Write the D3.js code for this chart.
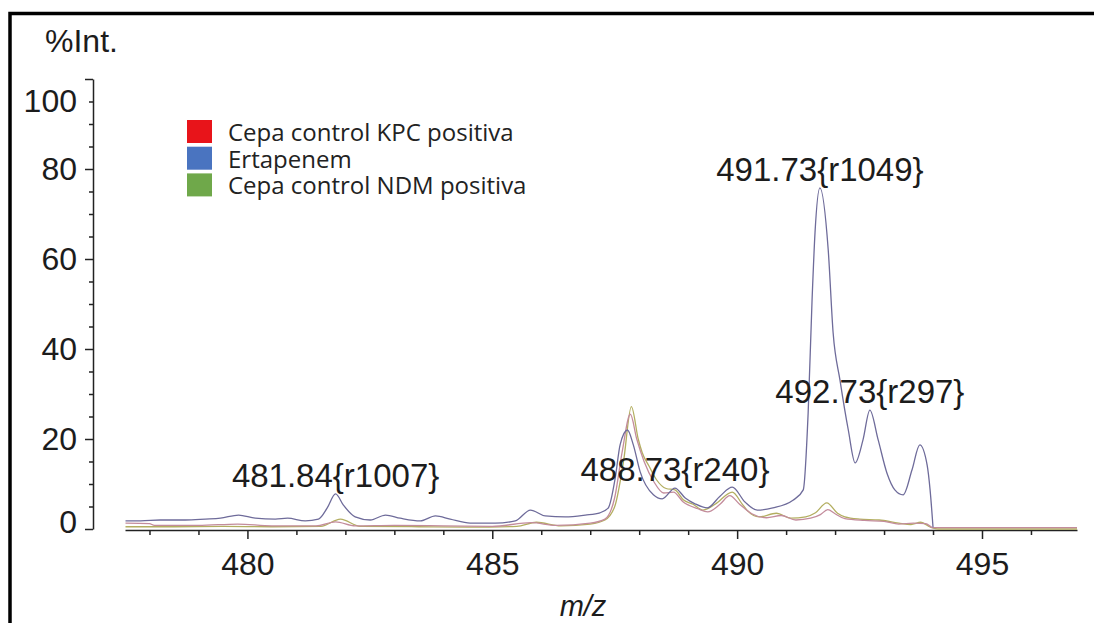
<!DOCTYPE html>
<html>
<head>
<meta charset="utf-8">
<script src="https://cdn.jsdelivr.net/npm/d3@7"></script>
<style>
  html, body { margin: 0; background: #fff; overflow: hidden; }
  svg { display: block; overflow: hidden; }
  .axis text { font-family: "Liberation Sans", Arial, sans-serif; font-size: 32px; fill: #1c1c1c; }
  .axis path, .axis line { stroke: #222; stroke-width: 1.5; }
  .peak { font-family: "Liberation Sans", Arial, sans-serif; font-size: 33px; fill: #1c1c1c; }
  .legend text { font-family: "Open Sans", sans-serif; font-size: 24px; fill: #222; }
</style>
</head>
<body>
<script>
'use strict'

// spectra: [m/z, %Int.]
var ertapenem = [
  [477.51, 1.8], [477.82, 1.8], [478.22, 2.0], [478.73, 2.0], [479.14, 2.2], [479.45, 2.4],
  [479.82, 3.1], [480.16, 2.4], [480.57, 2.2], [480.82, 2.4], [481.18, 1.8], [481.45, 2.2],
  [481.63, 4.7], [481.80, 7.8], [481.96, 5.3], [482.20, 2.7], [482.51, 2.0], [482.82, 3.1],
  [483.12, 2.4], [483.53, 1.8], [483.84, 2.9], [484.14, 2.2], [484.55, 1.3], [485.06, 1.3],
  [485.47, 1.8], [485.78, 4.2], [486.08, 2.9], [486.49, 2.7], [486.90, 3.1], [487.20, 3.6],
  [487.37, 4.7], [487.51, 11.3], [487.61, 18.7], [487.76, 22.0], [487.88, 18.7], [488.02, 12.7],
  [488.29, 7.6], [488.47, 6.7], [488.73, 9.1], [488.94, 6.9], [489.14, 5.6], [489.39, 4.7],
  [489.65, 7.3], [489.90, 9.3], [490.16, 6.0], [490.41, 4.2], [490.73, 4.7], [491.14, 6.4],
  [491.35, 8.7], [491.45, 25.8], [491.53, 50.9], [491.59, 65.8], [491.69, 75.8], [491.86, 62.0],
  [491.96, 43.6], [492.10, 33.1], [492.27, 22.0], [492.41, 14.7], [492.57, 19.8], [492.71, 26.4],
  [492.88, 19.8], [493.06, 12.4], [493.22, 8.7], [493.39, 7.6], [493.57, 13.1], [493.73, 18.7],
  [493.88, 14.2], [493.94, 8.7], [494.00, 0.4]
]

var kpc = [
  [477.51, 1.3], [478.0, 1.2], [478.1, 0.8], [479.0, 0.8], [479.8, 1.1], [480.5, 0.7],
  [481.4, 0.7], [481.8, 1.6], [482.2, 0.7], [483.0, 0.8], [484.0, 0.7], [485.0, 0.6],
  [485.8, 1.4], [486.3, 0.8], [487.0, 1.3], [487.3, 2.2], [487.5, 7.0], [487.65, 17.0],
  [487.82, 25.5], [487.95, 20.0], [488.1, 15.0], [488.3, 10.5], [488.5, 8.0], [488.7, 8.2],
  [488.9, 6.0], [489.2, 4.5], [489.4, 3.8], [489.65, 5.5], [489.85, 7.4], [490.05, 5.5],
  [490.3, 3.4], [490.6, 2.5], [490.9, 3.0], [491.2, 2.0], [491.5, 2.4], [491.7, 3.2],
  [491.85, 4.3], [492.0, 3.4], [492.2, 2.3], [492.6, 1.9], [493.0, 1.7], [493.3, 1.1],
  [493.6, 1.3], [493.85, 1.2], [494.0, 0.3], [495.0, 0.3], [496.0, 0.3], [496.94, 0.3]
]

var ndm = [
  [477.51, 0.5], [478.5, 0.5], [479.5, 0.6], [480.5, 0.5], [481.5, 0.6], [481.9, 2.2],
  [482.3, 0.6], [483.5, 0.5], [484.5, 0.4], [485.5, 0.6], [485.9, 1.5], [486.4, 0.7],
  [487.0, 1.1], [487.3, 2.0], [487.5, 5.0], [487.68, 15.0], [487.84, 27.2], [487.98, 20.0],
  [488.06, 17.0], [488.2, 14.0], [488.35, 11.0], [488.55, 9.0], [488.73, 8.7], [488.9, 6.5],
  [489.1, 5.5], [489.3, 4.2], [489.55, 5.5], [489.9, 8.2], [490.1, 5.6], [490.2, 4.2],
  [490.45, 2.7], [490.8, 3.5], [491.1, 2.4], [491.4, 2.7], [491.6, 3.6], [491.83, 5.8],
  [492.05, 3.5], [492.2, 2.7], [492.5, 2.2], [492.9, 2.0], [493.3, 1.3], [493.55, 1.0],
  [493.75, 1.5], [493.95, 0.4], [494.1, 0.0], [496.94, 0.0]
]

var seriesNames = ['Cepa control KPC positiva', 'Ertapenem', 'Cepa control NDM positiva']
var legendColors = ['#e8141a', '#4a74c0', '#6fa84a']

// [label, m/z, %Int.] of the annotated peaks
var peakLabels = [
  ['481.84{r1007}', 481.80, 7.8],
  ['488.73{r240}', 488.73, 9.1],
  ['491.73{r1049}', 491.69, 75.8],
  ['492.73{r297}', 492.71, 26.4]
]

var yMajor = [0, 20, 40, 60, 80, 100]
var yMinor = [5, 10, 15, 25, 30, 35, 45, 50, 55, 65, 70, 75, 85, 90, 95]
var xMajor = [480, 485, 490, 495]
var xMinor = [478, 479, 481, 482, 483, 484, 486, 487, 488, 489, 491, 492, 493, 494, 496]

var width = 1094, height = 623

var svg = d3.select('body').append('svg')
  .attr('width', width)
  .attr('height', height)

// frame: only its top and left edges are inside the picture
svg.append('path')
  .attr('d', 'M10,' + height + 'V13.5H' + width)
  .attr('fill', 'none')
  .attr('stroke', '#000')
  .attr('stroke-width', 3.5)

var x = d3.scaleLinear().domain([477.5, 496.94]).range([125, 1077])
var y = d3.scaleLinear().domain([0, 100]).range([529, 79])

// y axis
var yAxis = svg.append('g').attr('class', 'axis').attr('transform', 'translate(93,0)')
yAxis.call(d3.axisLeft(y).tickValues(yMajor).tickSize(8).tickSizeOuter(0).tickPadding(8))
yAxis.append('g').call(d3.axisLeft(y).tickValues(yMinor).tickSize(4).tickFormat('')).select('.domain').remove()
yAxis.selectAll('.tick text')
  .attr('dy', function (d) { return d === 100 ? '1.0em' : d === 0 ? '0.1em' : '0.32em' })

// x axis
var xAxis = svg.append('g').attr('class', 'axis').attr('transform', 'translate(0,' + (y(0) + 1) + ')')
xAxis.call(d3.axisBottom(x).tickValues(xMajor).tickSize(9).tickSizeOuter(0).tickPadding(13))
xAxis.append('g').call(d3.axisBottom(x).tickValues(xMinor).tickSize(5).tickFormat('')).select('.domain').remove()

svg.append('text')
  .attr('x', 45).attr('y', 52)
  .style('font-family', '"Liberation Sans", Arial, sans-serif')
  .style('font-size', '32px')
  .attr('fill', '#1c1c1c')
  .text('%Int.')

svg.append('text')
  .attr('x', 583).attr('y', 616)
  .attr('text-anchor', 'middle')
  .style('font-family', '"Liberation Sans", Arial, sans-serif')
  .style('font-size', '29px')
  .style('font-style', 'italic')
  .attr('fill', '#1c1c1c')
  .text('m/z')

// spectra
var line = d3.line()
  .curve(d3.curveMonotoneX)
  .x(function (d) { return x(d[0]) })
  .y(function (d) { return y(d[1]) })

var traces = [
  { data: ndm, color: '#b3ae60' },
  { data: kpc, color: '#c38c9c' },
  { data: ertapenem, color: '#6e6b9a' }
]

svg.append('g').selectAll('path')
  .data(traces)
  .enter().append('path')
  .attr('d', function (d) { return line(d.data) })
  .attr('fill', 'none')
  .attr('stroke', function (d) { return d.color })
  .attr('stroke-width', 1.3)
  .attr('stroke-linejoin', 'round')

// peak annotations
svg.append('g').selectAll('text')
  .data(peakLabels)
  .enter().append('text')
  .attr('class', 'peak')
  .attr('x', function (d) { return x(d[1]) })
  .attr('y', function (d) { return y(d[2]) - 7 })
  .attr('text-anchor', 'middle')
  .text(function (d) { return d[0] })

// legend
var legend = svg.append('g').attr('class', 'legend')
var row = legend.selectAll('g')
  .data(seriesNames)
  .enter().append('g')
  .attr('transform', function (d, i) { return 'translate(187,' + (120 + i * 26.7) + ')' })

row.append('rect')
  .attr('width', 25).attr('height', 23)
  .attr('fill', function (d, i) { return legendColors[i] })

row.append('text')
  .attr('x', 41).attr('y', 21)
  .text(function (d) { return d })
</script>
</body>
</html>
